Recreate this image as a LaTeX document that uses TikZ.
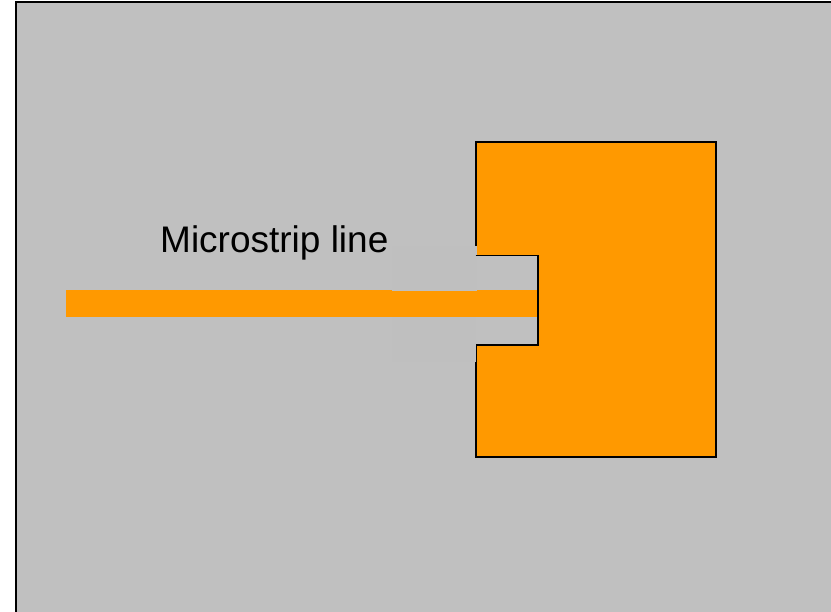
\documentclass[tikz,border=0pt]{standalone}
\usepackage{tikz,fontspec}
\setmainfont{Liberation Sans}
\definecolor{substrate}{HTML}{C0C0C0}
\definecolor{mask}{HTML}{BFBFBF}
\definecolor{copper}{HTML}{FF9900}
\tikzset{
  edge line/.style={black,line width=2pt},
  thin edge/.style={black,line width=1.7pt},
  label text/.style={inner sep=0pt,anchor=base west,font=\fontsize{37}{44}\selectfont}
}

\begin{document}
\begin{tikzpicture}[x=1pt,y=-1pt]
  \useasboundingbox (0,0) rectangle (831,612);

  % board
  \fill [substrate] (16,2) rectangle (831,612);
  \draw [edge line] (16,612) -- (16,2) -- (831,2);

  % patch with inset feed
  \fill [copper] (476,142.3) -- (716.3,142.3) -- (716.3,456.7) -- (476,456.7)
    -- (476,345) -- (538,345) -- (538,255.5) -- (476,255.5) -- cycle;
  \draw [edge line] (476,246) -- (476,142.3) -- (716.3,142.3) -- (716.3,456.7)
    -- (476,456.7) -- (476,345);

  % line
  \fill [mask] (392,317) rectangle (476,362);
  \fill [copper] (66,289.7) rectangle (537.6,316.8);
  \fill [mask] (392,246) rectangle (477,291);
  \draw [thin edge] (475.5,255.5) -- (538,255.5) -- (538,345) -- (475.5,345);

  \node [label text] (lbl) at (160,252.5) {Microstrip line};
\end{tikzpicture}
\end{document}
